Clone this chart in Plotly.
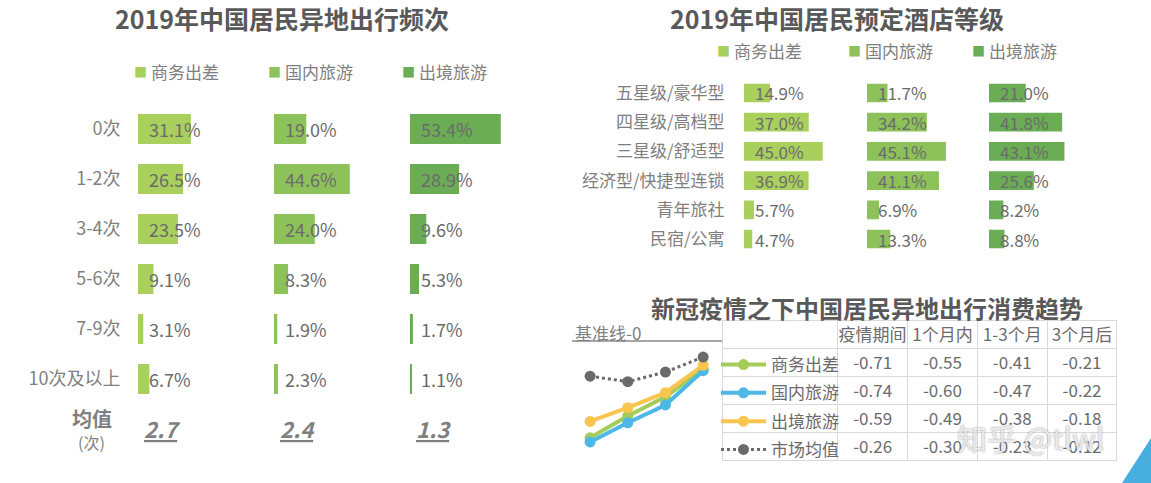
import plotly.graph_objects as go

W, H = 1151, 483
FONT = "Noto Sans CJK SC, Microsoft YaHei, sans-serif"


def fx(p):
    return p / W


def fy(p):
    return 1 - p / H


# ---------------- data ----------------
series_names = ["商务出差", "国内旅游", "出境旅游"]
bar_colors = ["#a9d05c", "#8dc25a", "#6aad55"]

freq_categories = ["0次", "1-2次", "3-4次", "5-6次", "7-9次", "10次及以上"]
freq_business = [31.1, 26.5, 23.5, 9.1, 3.1, 6.7]
freq_domestic = [19.0, 44.6, 24.0, 8.3, 1.9, 2.3]
freq_outbound = [53.4, 28.9, 9.6, 5.3, 1.7, 1.1]
freq_mean = [2.7, 2.4, 1.3]

hotel_categories = ["五星级/豪华型", "四星级/高档型", "三星级/舒适型",
                    "经济型/快捷型连锁", "青年旅社", "民宿/公寓"]
hotel_business = [14.9, 37.0, 45.0, 36.9, 5.7, 4.7]
hotel_domestic = [11.7, 34.2, 45.1, 41.1, 6.9, 13.3]
hotel_outbound = [21.0, 41.8, 43.1, 25.6, 8.2, 8.8]

trend_periods = ["疫情期间", "1个月内", "1-3个月", "3个月后"]
trend_names = ["商务出差", "国内旅游", "出境旅游", "市场均值"]
trend_business = [-0.71, -0.55, -0.41, -0.21]
trend_domestic = [-0.74, -0.60, -0.47, -0.22]
trend_outbound = [-0.59, -0.49, -0.38, -0.18]
trend_market = [-0.26, -0.30, -0.23, -0.12]

# ---------------- styles ----------------
TITLE_C = "#595959"
LABEL_C = "#7f7f7f"
VALUE_C = "#6b6b6b"
trend_colors = ["#a3cc5a", "#4db8e6", "#f8c54e", "#6b6b6b"]

fig = go.Figure()
layout = dict(
    width=W, height=H, margin=dict(l=0, r=0, t=0, b=0),
    paper_bgcolor="white", plot_bgcolor="white",
    font=dict(family=FONT, color=LABEL_C),
    hovermode=False,
)
annotations = []


def text_ann(text, x, y, size, color, xanchor="center", yanchor="middle", weight=None, **kw):
    f = dict(family=FONT, size=size, color=color)
    if weight:
        f["weight"] = weight
    d = dict(text=text, x=fx(x), y=fy(y), xref="paper", yref="paper",
             xanchor=xanchor, yanchor=yanchor, showarrow=False, font=f)
    d.update(kw)
    annotations.append(d)


panels = [
    dict(cats=freq_categories, series=[freq_business, freq_domestic, freq_outbound],
         starts=[138, 274, 410], pxper=1.70, xmax=60, top=104, bottom=404,
         barw=0.6, fsize=18, ticklen=13),
    dict(cats=hotel_categories, series=[hotel_business, hotel_domestic, hotel_outbound],
         starts=[744, 867, 989], pxper=1.75, xmax=50, top=78.4, bottom=253.6,
         barw=0.64, fsize=17, ticklen=15),
]

ax = 0
freq_axes = []
for p in panels:
    n = len(p["cats"])
    for si, vals in enumerate(p["series"]):
        ax += 1
        xa = "x" if ax == 1 else f"x{ax}"
        ya = "y" if ax == 1 else f"y{ax}"
        if p is panels[0]:
            freq_axes.append(xa)
        fig.add_trace(go.Bar(
            x=vals, y=p["cats"], orientation="h", width=p["barw"],
            marker=dict(color=bar_colors[si], line=dict(width=0)),
            xaxis=xa, yaxis=ya, showlegend=False, name=series_names[si],
        ))
        x0 = p["starts"][si]
        x1 = x0 + p["pxper"] * p["xmax"]
        layout["xaxis" if ax == 1 else f"xaxis{ax}"] = dict(
            domain=[fx(x0), fx(x1)], range=[0, p["xmax"]], anchor=ya,
            showgrid=False, zeroline=False, showticklabels=False, showline=False,
            fixedrange=True)
        layout["yaxis" if ax == 1 else f"yaxis{ax}"] = dict(
            domain=[fy(p["bottom"]), fy(p["top"])], anchor=xa, type="category",
            categoryorder="array", categoryarray=p["cats"], range=[n - 0.5, -0.5],
            showgrid=False, zeroline=False, showline=False,
            showticklabels=(si == 0), ticks="outside" if si == 0 else "",
            ticklen=p["ticklen"], tickcolor="rgba(0,0,0,0)",
            tickfont=dict(family=FONT, size=p["fsize"], color=LABEL_C),
            fixedrange=True)
        for c, v in zip(p["cats"], vals):
            annotations.append(dict(
                text=f"{v:.1f}%", x=0, y=c, xref=xa, yref=ya, xanchor="left",
                yanchor="middle", xshift=9, showarrow=False,
                font=dict(family=FONT, size=p["fsize"], color=VALUE_C)))

# averages row (left panel)
for xa, m in zip(freq_axes, freq_mean):
    annotations.append(dict(
        text=f"{m:.1f}", x=0, y=fy(428), xref=xa, yref="paper", xanchor="left",
        yanchor="middle", xshift=4, showarrow=False,
        font=dict(family=FONT, size=22, color=LABEL_C, weight="bold",
                  style="italic", lineposition="under")))
text_ann("均值", 92, 418, 20, LABEL_C, weight="bold")
text_ann("(次)", 91, 442, 16, LABEL_C)

# titles
text_ann("2019年中国居民异地出行频次", 282, 18, 25, TITLE_C, weight="bold")
text_ann("2019年中国居民预定酒店等级", 837, 18, 25, TITLE_C, weight="bold")
text_ann("新冠疫情之下中国居民异地出行消费趋势", 867, 307, 24, TITLE_C, weight="bold")

# manual bar legends
for texts_x, ly in (([149, 283, 417], 71), ([732, 863, 987], 51)):
    for tx, name, col in zip(texts_x, series_names, bar_colors):
        text_ann("■", tx - 9, ly, 13, col)
        text_ann(name, tx, ly, 17, LABEL_C, xanchor="left")

# ---------------- trend line chart ----------------
for name, vals, col in zip(trend_names, [trend_business, trend_domestic, trend_outbound, trend_market], trend_colors):
    is_mkt = name == "市场均值"
    fig.add_trace(go.Scatter(
        x=trend_periods, y=vals, mode="lines+markers", name=name, legendgroup=name,
        line=dict(color=col, width=3 if is_mkt else 4, dash="dot" if is_mkt else "solid"),
        marker=dict(size=11, color=col), xaxis="x7", yaxis="y7", cliponaxis=False,
    ))
layout["xaxis7"] = dict(domain=[fx(572), fx(722)], range=[-0.48, 3.5], type="category",
                        anchor="y7", showgrid=False, zeroline=False, showticklabels=False,
                        showline=False, fixedrange=True)
layout["yaxis7"] = dict(domain=[fy(470), fy(325)], range=[-0.945, 0.114], anchor="x7",
                        showgrid=False, zeroline=True, zerolinecolor="#a6a6a6",
                        zerolinewidth=2, showticklabels=False, showline=False,
                        fixedrange=True)
text_ann("基准线-0", 573, 332, 17, LABEL_C, xanchor="left")

layout["showlegend"] = True
layout["legend"] = dict(
    x=fx(716), y=fy(347), xanchor="left", yanchor="top", orientation="v",
    font=dict(family=FONT, size=17, color=VALUE_C), itemwidth=45,
    tracegroupgap=3.2, bgcolor="rgba(0,0,0,0)", borderwidth=0, traceorder="grouped",
)

# ---------------- table ----------------
series_table = [trend_business, trend_domestic, trend_outbound, trend_market]
cols = [[f"{s[j]:.2f}" for s in series_table] for j in range(len(trend_periods))]
fig.add_trace(go.Table(
    domain=dict(x=[fx(722), fx(1118)], y=[fy(461), fy(320)]),
    columnwidth=[116, 70, 70, 70, 70],
    header=dict(values=[""] + trend_periods, height=28, align="center",
                fill=dict(color="white"), line=dict(color="#d9d9d9", width=1),
                font=dict(family=FONT, size=17, color=VALUE_C)),
    cells=dict(values=[[""] * 4] + cols, height=28.2, align="center",
               fill=dict(color="white"), line=dict(color="#d9d9d9", width=1),
               font=dict(family=FONT, size=17, color=VALUE_C)),
))

# watermark and corner decoration
text_ann("知乎 @tlwl", 1031, 437, 30, "rgba(255,255,255,0.75)")
annotations[-1]["font"]["shadow"] = "0px 0px 2px rgba(90,90,90,0.9)"

layout["shapes"] = [dict(
    type="path", xref="paper", yref="paper",
    path=f"M {fx(1122)} {fy(483)} L 1 {fy(438)} L 1 0 Z",
    fillcolor="#48aee0", line=dict(width=0), layer="above")]

layout["annotations"] = annotations
fig.update_layout(**layout)
fig.write_html("out.html")
